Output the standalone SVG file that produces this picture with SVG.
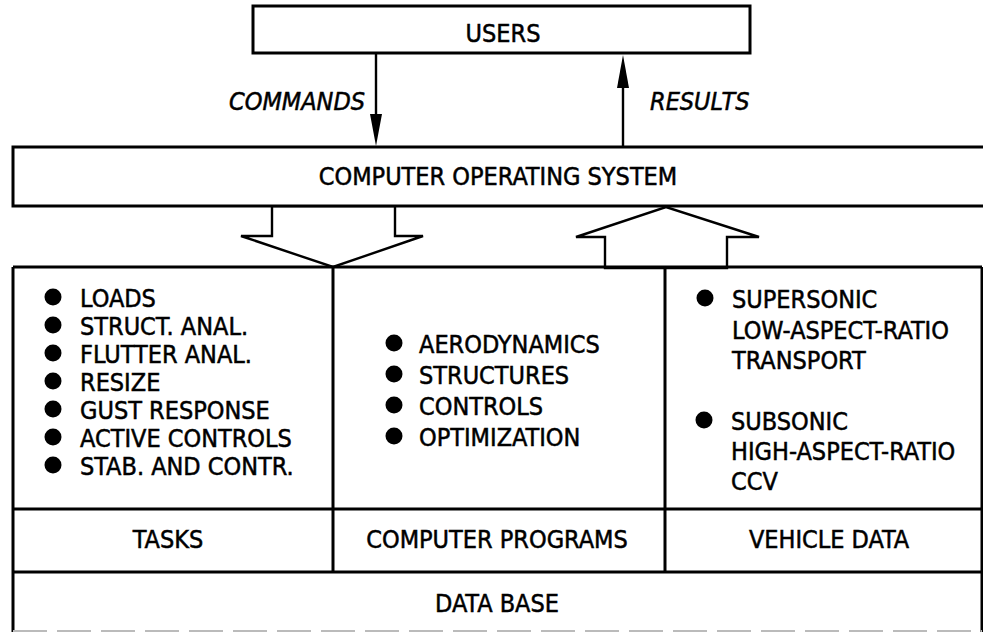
<svg xmlns="http://www.w3.org/2000/svg" width="983" height="634" viewBox="0 0 983 634">
  <defs>
    <style>
      .box { fill: #fff; stroke: #000; stroke-width: 3; }
      .ln { fill: none; stroke: #000; stroke-width: 3; }
      .fat { fill: #fff; stroke: #000; stroke-width: 2.4; stroke-linejoin: miter; }
      .wire { fill: none; stroke: #000; stroke-width: 2.4; }
      text { font-family: "DejaVu Sans Condensed", "DejaVu Sans", "Liberation Sans", sans-serif; font-size: 25px; fill: #000; stroke: #000; stroke-width: 0.5; }
      .c { text-anchor: middle; }
      .it { font-style: italic; }
      .dot { fill: #000; }
    </style>
  </defs>

  <rect width="983" height="634" fill="#fff"/>

  <!-- connectors -->
  <g id="connectors">
    <line class="wire" x1="376" y1="53" x2="376" y2="118"/>
    <path d="M370,114 L376,146 L382,114 Z" fill="#000"/>
    <line class="wire" x1="623" y1="147" x2="623" y2="86"/>
    <path d="M617,88 L623,55 L629,88 Z" fill="#000"/>
    <polygon class="fat" points="272,206 272,236 241,236 333,267 423,236 395,236 395,206"/>
    <polygon class="fat" points="605,268 605,237 576,237 666,207 759,237 727,237 727,268"/>
  </g>

  <g id="users">
    <rect class="box" x="253" y="6" width="497" height="47"/>
    <text class="c" x="503" y="42">USERS</text>
  </g>

  <g id="labels">
    <text class="it" x="229" y="110">COMMANDS</text>
    <text class="it" x="650" y="110">RESULTS</text>
  </g>

  <g id="operating-system">
    <rect class="box" x="13" y="147" width="985" height="59"/>
    <text class="c" x="498" y="185">COMPUTER OPERATING SYSTEM</text>
  </g>

  <g id="data-base">
    <path class="ln" d="M13,267 L13,632 M13,267 L982,267 M982,267 L982,632"/>
    <line class="ln" x1="13" y1="509" x2="982" y2="509"/>
    <line class="ln" x1="13" y1="572" x2="982" y2="572"/>
    <line x1="13" y1="631" x2="982" y2="631" stroke="#bbb" stroke-width="2" stroke-dasharray="34,10"/>
    <text class="c" x="497" y="612">DATA BASE</text>
  </g>

  <g id="tasks">
    <line class="ln" x1="333" y1="267" x2="333" y2="572"/>
    <circle class="dot" cx="53" cy="297" r="8.5"/>
    <circle class="dot" cx="53" cy="325" r="8.5"/>
    <circle class="dot" cx="53" cy="353" r="8.5"/>
    <circle class="dot" cx="53" cy="381" r="8.5"/>
    <circle class="dot" cx="53" cy="409" r="8.5"/>
    <circle class="dot" cx="53" cy="437" r="8.5"/>
    <circle class="dot" cx="53" cy="465" r="8.5"/>
    <text x="80" y="307">LOADS</text>
    <text x="80" y="335">STRUCT. ANAL.</text>
    <text x="80" y="363">FLUTTER ANAL.</text>
    <text x="80" y="391">RESIZE</text>
    <text x="80" y="419">GUST RESPONSE</text>
    <text x="80" y="447">ACTIVE CONTROLS</text>
    <text x="80" y="475">STAB. AND CONTR.</text>
    <text class="c" x="168" y="548">TASKS</text>
  </g>

  <g id="computer-programs">
    <line class="ln" x1="665" y1="267" x2="665" y2="572"/>
    <circle class="dot" cx="394" cy="343" r="8.5"/>
    <circle class="dot" cx="394" cy="374" r="8.5"/>
    <circle class="dot" cx="394" cy="405" r="8.5"/>
    <circle class="dot" cx="394" cy="436" r="8.5"/>
    <text x="419" y="353">AERODYNAMICS</text>
    <text x="419" y="384">STRUCTURES</text>
    <text x="419" y="415">CONTROLS</text>
    <text x="419" y="446">OPTIMIZATION</text>
    <text class="c" x="497" y="548">COMPUTER PROGRAMS</text>
  </g>

  <g id="vehicle-data">
    <circle class="dot" cx="705" cy="298" r="8.5"/>
    <circle class="dot" cx="704" cy="420" r="8.5"/>
    <text x="732" y="308">SUPERSONIC</text>
    <text x="732" y="339">LOW-ASPECT-RATIO</text>
    <text x="732" y="369">TRANSPORT</text>
    <text x="731" y="430">SUBSONIC</text>
    <text x="731" y="460">HIGH-ASPECT-RATIO</text>
    <text x="731" y="490">CCV</text>
    <text class="c" x="829" y="548">VEHICLE DATA</text>
  </g>
</svg>
